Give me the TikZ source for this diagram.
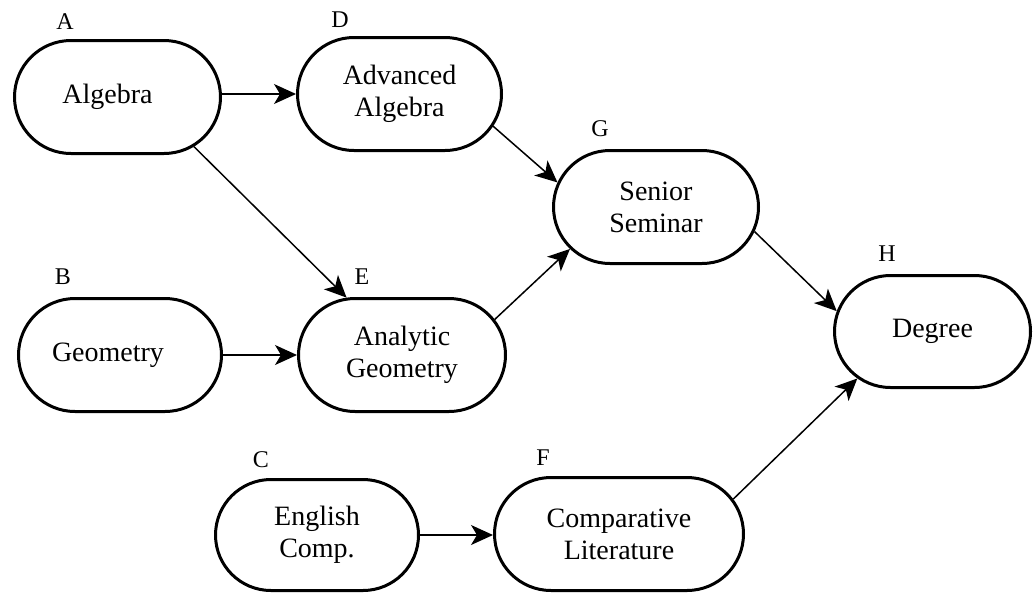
\documentclass[tikz,border=0pt]{standalone}
\usepackage{fontspec}
\setmainfont{Liberation Serif}
\usetikzlibrary{shapes.misc,arrows.meta}
\begin{document}
\begin{tikzpicture}[x=1pt,y=-1pt,
  course/.style={rounded rectangle, draw, line width=3pt, inner sep=0pt,
    align=center, font=\fontsize{28}{32}\selectfont, minimum height=113pt},
  tag/.style={font=\fontsize{24}{26}\selectfont, inner sep=0pt},
  link/.style={line width=1.5pt, -{Stealth[length=22pt,width=20pt,inset=6pt]}}]
\useasboundingbox (0,0) rectangle (1033,595);
% courses
\node[course, minimum width=206pt] (A) at (117.5,97) {Algebra\hspace*{20pt}};
\node[course, minimum width=204pt] (D) at (399.5,94) {Advanced\\Algebra};
\node[course, minimum width=205pt] (G) at (656,207) {Senior\\Seminar};
\node[course, minimum width=203pt] (B) at (120,355) {Geometry\hspace*{24pt}};
\node[course, minimum width=207pt] (E) at (402,355) {Analytic\\Geometry};
\node[course, minimum width=196pt, minimum height=112pt] (H) at (932.5,331.5) {Degree};
\node[course, minimum width=203pt, minimum height=111pt] (C) at (317,535) {English\\Comp.};
\node[course, minimum width=249pt] (F) at (619,534) {Comparative\\Literature};
% letters
\node[tag] (lA) at (65,22) {A};
\node[tag] (lD) at (340,20) {D};
\node[tag] (lG) at (600,129) {G};
\node[tag] (lB) at (63,277) {B};
\node[tag] (lE) at (362,277) {E};
\node[tag] (lH) at (887,254) {H};
\node[tag] (lC) at (261,460) {C};
\node[tag] (lF) at (543,458) {F};
% prerequisites
\draw[link] (A.east |- D.west) -- (D.west);
\draw[link] (B.east) -- (B.east -| E.west);
\draw[link] (C.east) -- (C.east -| F.west);
\draw[link] (A.-33) -- (E.134);
\draw[link] (D.-19) -- (G.166);
\draw[link] (E.21) -- (G.206);
\draw[link] (G.-14) -- (H.168);
\draw[link] (F.17) -- (H.212);
\end{tikzpicture}
\end{document}
